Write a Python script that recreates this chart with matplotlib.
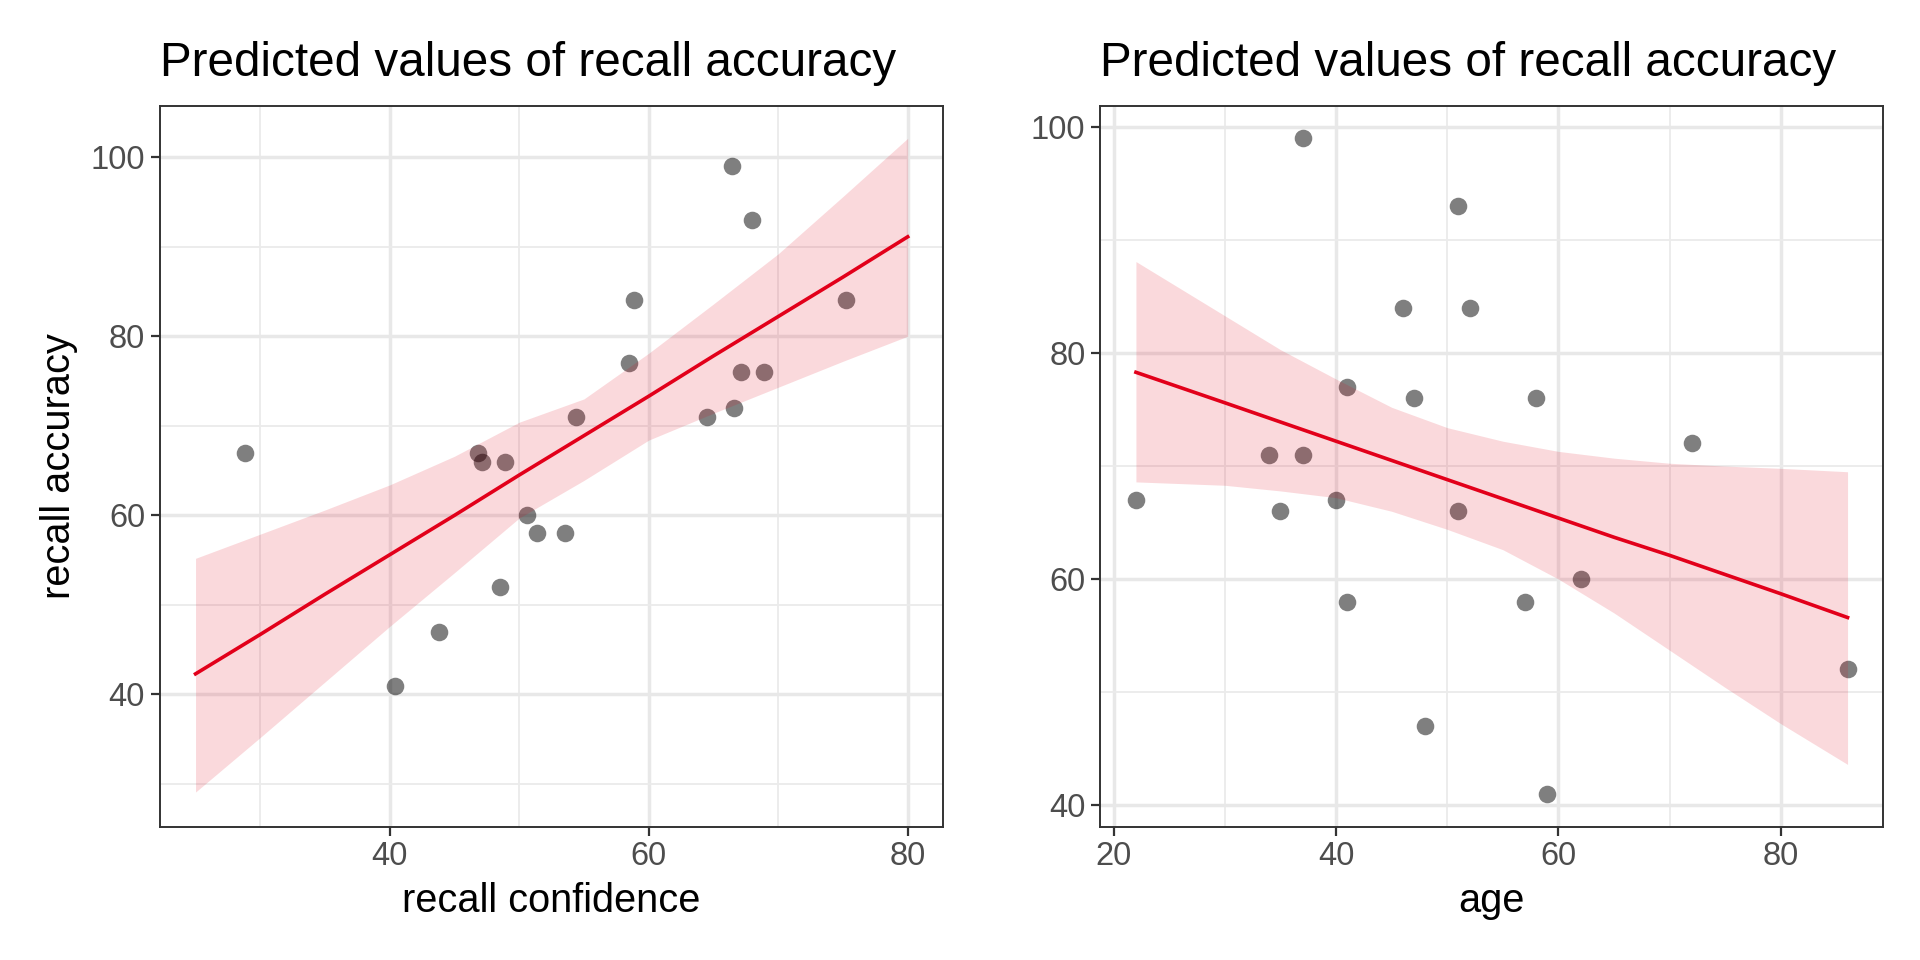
import numpy as np
import matplotlib
matplotlib.use('Agg')
import matplotlib.pyplot as plt
from matplotlib.ticker import MultipleLocator

plt.rcParams['font.family'] = ['Liberation Sans', 'DejaVu Sans']

# observed data (same 20 people in both panels)
recall_confidence = [28.8, 40.4, 43.8, 46.8, 47.1, 48.9, 48.5, 50.6, 51.4, 53.5,
                     54.4, 58.5, 58.9, 64.5, 66.4, 66.6, 67.1, 68.0, 68.9, 75.2]
acc_by_conf = [67, 41, 47, 67, 66, 66, 52, 60, 58, 58,
               71, 77, 84, 71, 99, 72, 76, 93, 76, 84]

age = [22, 34, 35, 37, 37, 40, 41, 41, 46, 47, 48, 51, 51, 52, 57, 58, 59, 62, 72, 86]
acc_by_age = [67, 71, 66, 99, 71, 67, 77, 58, 84, 76, 47, 93, 66, 84, 58, 76, 41, 60, 72, 52]

# predicted values with confidence band
conf_grid = [25, 30, 35, 40, 45, 50, 55, 60, 65, 70, 75, 80]
conf_fit = [42.3, 46.7, 51.2, 55.6, 60.0, 64.5, 68.9, 73.3, 77.8, 82.2, 86.6, 91.1]
conf_hi = [55.2, 57.9, 60.6, 63.4, 66.6, 70.4, 73.0, 78.1, 83.6, 89.2, 95.6, 102.1]
conf_lo = [29.1, 35.2, 41.4, 47.6, 53.6, 59.7, 63.9, 68.4, 71.4, 74.3, 77.2, 80.0]

age_grid = [22, 30, 35, 40, 45, 50, 55, 60, 65, 70, 75, 80, 86]
age_fit = [78.3, 75.6, 73.9, 72.2, 70.5, 68.8, 67.1, 65.4, 63.7, 62.1, 60.4, 58.7, 56.6]
age_hi = [88.1, 83.3, 80.3, 77.7, 75.2, 73.4, 72.2, 71.3, 70.7, 70.25, 70.0, 69.8, 69.5]
age_lo = [68.6, 68.3, 67.8, 67.2, 66.0, 64.4, 62.6, 60.0, 57.0, 53.7, 50.4, 47.2, 43.6]

RED = '#e2001a'
TITLE = 'Predicted values of recall accuracy'


def style_axes(ax, xlim, ylim, xmajor, ymajor):
    ax.set_xlim(*xlim)
    ax.set_ylim(*ylim)
    ax.xaxis.set_major_locator(MultipleLocator(xmajor))
    ax.yaxis.set_major_locator(MultipleLocator(ymajor))
    ax.xaxis.set_minor_locator(MultipleLocator(xmajor / 2))
    ax.yaxis.set_minor_locator(MultipleLocator(ymajor / 2))
    ax.grid(which='major', color='#e8e8e8', lw=2.5, zorder=0)
    ax.grid(which='minor', color='#ebebeb', lw=1.3, zorder=0)
    ax.set_axisbelow(True)
    for sp in ax.spines.values():
        sp.set_color('#333333')
        sp.set_linewidth(1.4)
    ax.tick_params(which='major', length=6.7, width=1.6, color='#333333',
                   labelsize=23.5, labelcolor='#4d4d4d', pad=4)
    ax.tick_params(which='minor', length=0)
    ax.set_title(TITLE, loc='left', fontsize=34.3, pad=21)


def draw_panel(ax, x, y, grid, fit, lo, hi):
    ax.scatter(x, y, s=160, color='black', alpha=0.5, lw=0, zorder=2)
    ax.fill_between(grid, lo, hi, color=RED, alpha=0.15, lw=0, zorder=3)
    ax.plot(grid, fit, color=RED, lw=2.6, zorder=4)


fig = plt.figure(figsize=(19.2, 9.6), dpi=100)
ax1 = fig.add_axes([0.0833, 0.139, 0.408, 0.751])
ax2 = fig.add_axes([0.5731, 0.139, 0.4077, 0.751])

draw_panel(ax1, recall_confidence, acc_by_conf, conf_grid, conf_fit, conf_lo, conf_hi)
style_axes(ax1, (22.25, 82.75), (25.25, 105.75), 20, 20)
ax1.set_xticks([40, 60, 80])
ax1.set_xlabel('recall confidence', fontsize=28.6, labelpad=7)
ax1.set_ylabel('recall accuracy', fontsize=28.6, labelpad=9)

draw_panel(ax2, age, acc_by_age, age_grid, age_fit, age_lo, age_hi)
style_axes(ax2, (18.8, 89.2), (38.1, 101.9), 20, 20)
ax2.set_xlabel('age', fontsize=28.6, labelpad=7)

fig.savefig('out.png', dpi=100)
